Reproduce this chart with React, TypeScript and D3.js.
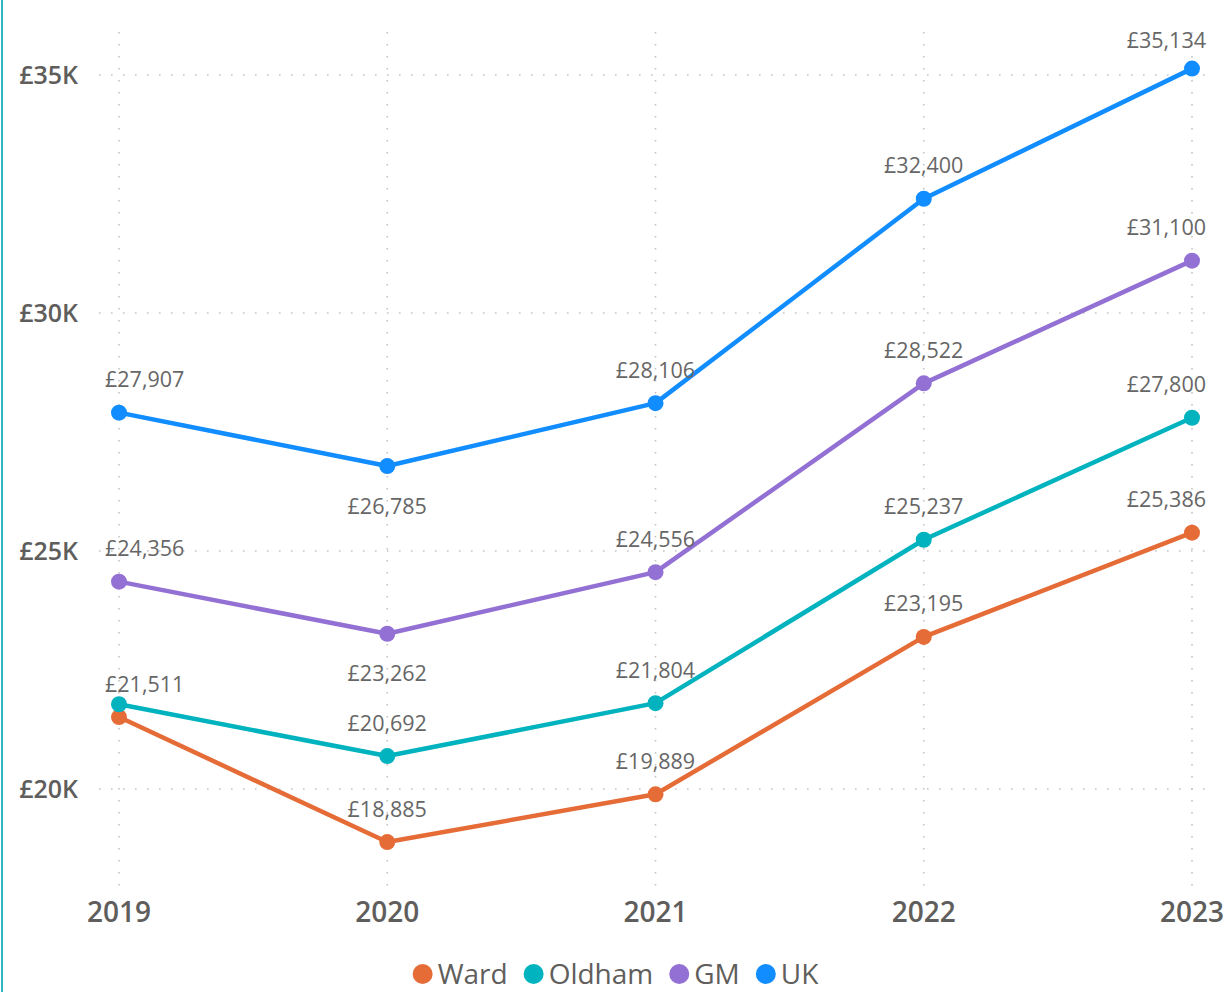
import React, { useEffect, useRef } from "react";
import * as d3 from "d3";

const years = ["2019", "2020", "2021", "2022", "2023"];
const seriesNames = ["Ward", "Oldham", "GM", "UK"];
const seriesColors = ["#E66C37", "#00B3BE", "#9370D3", "#118DFF"];
const wardValues = [21511, 18885, 19889, 23195, 25386];
const oldhamValues = [21780, 20692, 21804, 25237, 27800];
const gmValues = [24356, 23262, 24556, 28522, 31100];
const ukValues = [27907, 26785, 28106, 32400, 35134];
// label placement per point: "above" | "below" | "none"
const wardLabelPos = ["above", "above", "above", "above", "above"];
const oldhamLabelPos = ["none", "above", "above", "above", "above"];
const gmLabelPos = ["above", "below", "above", "above", "above"];
const ukLabelPos = ["above", "below", "above", "above", "above"];
const yTicks = [20000, 25000, 30000, 35000];
const yDomain = [18000, 36000];

const W = 1231;
const H = 992;
const FONT = "'Segoe UI', 'Open Sans', sans-serif";

export default function App() {
  const ref = useRef<SVGSVGElement | null>(null);

  useEffect(() => {
    const svg = d3.select(ref.current);
    svg.selectAll("*").remove();

    const seriesValues = [wardValues, oldhamValues, gmValues, ukValues];
    const seriesLabelPos = [wardLabelPos, oldhamLabelPos, gmLabelPos, ukLabelPos];

    const x = d3.scalePoint<string>().domain(years).range([119, 1192]);
    const y = d3.scaleLinear().domain(yDomain).range([884.2, 27.4]);

    const plotLeft = 99;
    const plotRight = 1210;

    // left border
    svg.append("rect").attr("x", 1).attr("y", 0).attr("width", 2).attr("height", H).attr("fill", "#2FB6C4");

    // gridlines
    const grid = svg.append("g");
    yTicks.forEach((t) => {
      grid.append("line")
        .attr("x1", plotLeft).attr("x2", plotRight)
        .attr("y1", y(t)).attr("y2", y(t))
        .attr("stroke", "#c4c4c4").attr("stroke-width", 1.6)
        .attr("stroke-dasharray", "1.6,10.4");
    });
    years.forEach((yr) => {
      grid.append("line")
        .attr("x1", x(yr)!).attr("x2", x(yr)!)
        .attr("y1", 32).attr("y2", 886)
        .attr("stroke", "#c4c4c4").attr("stroke-width", 1.6)
        .attr("stroke-dasharray", "1.6,10.4");
    });

    // y axis labels
    svg.append("g").selectAll("text").data(yTicks).join("text")
      .attr("x", 78).attr("y", (d) => y(d) + 8.5)
      .attr("text-anchor", "end")
      .attr("font-family", FONT).attr("font-size", 25).attr("font-weight", 600)
      .attr("fill", "#605E5C")
      .text((d) => `£${d / 1000}K`);

    // x axis labels
    svg.append("g").selectAll("text").data(years).join("text")
      .attr("x", (d) => x(d)!).attr("y", 922)
      .attr("text-anchor", "middle")
      .attr("font-family", FONT).attr("font-size", 28).attr("font-weight", 600)
      .attr("fill", "#605E5C")
      .text((d) => d);

    // lines and markers
    const line = d3.line<number>().x((_, i) => x(years[i])!).y((d) => y(d));
    seriesValues.forEach((vals, si) => {
      const g = svg.append("g");
      g.append("path").attr("d", line(vals)!).attr("fill", "none")
        .attr("stroke", seriesColors[si]).attr("stroke-width", 4.5)
        .attr("stroke-linejoin", "round");
      g.selectAll("circle").data(vals).join("circle")
        .attr("cx", (_, i) => x(years[i])!).attr("cy", (d) => y(d))
        .attr("r", 8).attr("fill", seriesColors[si]);
    });

    // data labels
    const fmt = d3.format(",");
    const lg = svg.append("g");
    seriesValues.forEach((vals, si) => {
      vals.forEach((v, i) => {
        const pos = seriesLabelPos[si][i];
        if (pos === "none") return;
        const px = x(years[i])!;
        const py = y(v);
        let cy = pos === "above" ? py - 33 : py + 40;
        if (cy < 40) cy = 40;
        const t = lg.append("text")
          .attr("font-family", FONT).attr("font-size", 21.5)
          .attr("fill", "#666666")
          .attr("text-anchor", "middle")
          .attr("x", px).attr("y", cy + 7.5)
          .text(`£${fmt(v)}`);
        const w = (t.node() as SVGTextElement).getComputedTextLength();
        if (px - w / 2 < 105) {
          t.attr("text-anchor", "start").attr("x", 105);
        } else if (px + w / 2 > 1206) {
          t.attr("text-anchor", "end").attr("x", 1206);
        }
      });
    });

    // legend
    const leg = svg.append("g");
    const items: { g: any; w: number }[] = [];
    seriesNames.forEach((name, i) => {
      const g = leg.append("g");
      g.append("circle").attr("cx", 10).attr("cy", 0).attr("r", 10).attr("fill", seriesColors[i]);
      const t = g.append("text").attr("x", 25).attr("y", 10)
        .attr("font-family", FONT).attr("font-size", 28).attr("fill", "#605E5C").text(name);
      const w = 25 + (t.node() as SVGTextElement).getComputedTextLength();
      items.push({ g, w });
    });
    const gap = 16;
    const total = d3.sum(items, (d) => d.w) + gap * (items.length - 1);
    let cx = W / 2 - total / 2;
    items.forEach((it) => {
      it.g.attr("transform", `translate(${cx},974)`);
      cx += it.w + gap;
    });
  }, []);

  return (
    <svg
      ref={ref}
      width={W}
      height={H}
      style={{ position: "absolute", left: 0, top: 0, background: "#fff" }}
    />
  );
}
